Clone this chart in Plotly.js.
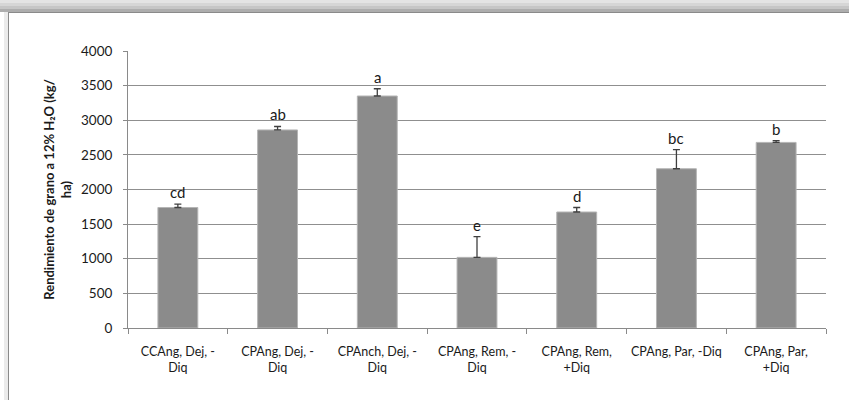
<!DOCTYPE html>
<html>
<head>
<meta charset="utf-8">
<script src="https://cdn.plot.ly/plotly-3.0.1.min.js"></script>
<style>
  html, body { margin: 0; padding: 0; width: 849px; height: 400px; overflow: hidden; background: #ffffff; }
  #chart { position: absolute; left: 0; top: 0; width: 849px; height: 400px; z-index: 1; }
  .band { position: absolute; left: 0; width: 849px; z-index: 2; pointer-events: none; }
  #leftband { position: absolute; left: 4px; top: 12px; width: 4px; height: 388px; z-index: 2; pointer-events: none;
              background-color: #ebebeb; }
  #frame { position: absolute; left: 8px; top: 12px; width: 900px; height: 500px; z-index: 3; pointer-events: none;
           border-left: 1px solid #8a8a8a; border-top: 1px solid #8a8a8a; }
</style>
</head>
<body>
<div id="chart"></div>
<div class="band" style="top:0px;height:3px;background-color:#e4e4e4"></div>
<div class="band" style="top:3px;height:3px;background-color:#d6d6d6"></div>
<div class="band" style="top:6px;height:3px;background-color:#c6c6c6"></div>
<div class="band" style="top:9px;height:3px;background-color:#adadad"></div>
<div id="leftband"></div>
<div id="frame"></div>
<script>
const categories = [
  "CCAng, Dej, -<br>Diq",
  "CPAng, Dej, -<br>Diq",
  "CPAnch, Dej, -<br>Diq",
  "CPAng, Rem, -<br>Diq",
  "CPAng, Rem,<br>+Diq",
  "CPAng, Par, -Diq<br> ",
  "CPAng, Par,<br>+Diq"
];
const yieldValues = [1740, 2860, 3350, 1020, 1675, 2300, 2680];
const errorValues = [50, 50, 105, 300, 65, 275, 25];
const letters = ["cd", "ab", "a", "e", "d", "bc", "b"];
const yTickVals = [0, 500, 1000, 1500, 2000, 2500, 3000, 3500, 4000];

const trace = {
  type: "bar",
  x: categories,
  y: yieldValues,
  marker: { color: "#8b8b8b", line: { color: "#b5b5b5", width: 1 } },
  error_y: {
    type: "data",
    symmetric: false,
    array: errorValues,
    arrayminus: errorValues.map(() => 0),
    color: "#3f3f3f",
    thickness: 1.3,
    width: 3.5
  },
  hoverinfo: "none"
};

const annotations = categories.map((c, i) => ({
  x: c,
  y: yieldValues[i] + errorValues[i],
  xref: "x", yref: "y",
  text: letters[i],
  showarrow: false,
  yanchor: "bottom",
  yshift: 1,
  font: { family: "Lato, 'Open Sans', sans-serif", size: 15, color: "#1a1a1a" }
}));

const layout = {
  width: 849,
  height: 400,
  margin: { l: 128, r: 23, t: 51, b: 72, pad: 0 },
  paper_bgcolor: "#ffffff",
  plot_bgcolor: "#ffffff",
  showlegend: false,
  bargap: 0.6,
  font: { family: "Lato, 'Open Sans', sans-serif", color: "#1a1a1a" },
  xaxis: {
    type: "category",
    showgrid: false,
    showline: true,
    linecolor: "#8a8a8a",
    linewidth: 1,
    ticks: "outside",
    tickson: "boundaries",
    ticklen: 5,
    tickcolor: "#8a8a8a",
    tickangle: 0,
    tickfont: { family: "Lato, 'Open Sans', sans-serif", size: 12.5, color: "#1a1a1a" },
    ticklabelstandoff: 12,
    zeroline: false,
    fixedrange: true
  },
  yaxis: {
    range: [0, 4000],
    tickvals: yTickVals,
    ticktext: yTickVals.map(String),
    showgrid: true,
    gridcolor: "#8f8f8f",
    gridwidth: 1,
    showline: true,
    linecolor: "#8a8a8a",
    linewidth: 1,
    ticks: "outside",
    ticklen: 4,
    tickcolor: "#8a8a8a",
    tickfont: { family: "Lato, 'Open Sans', sans-serif", size: 13.5, color: "#1a1a1a" },
    ticklabelstandoff: 8,
    zeroline: false,
    fixedrange: true,
    title: {
      text: "<b>Rendimiento de grano a 12% H₂O (kg/<br>ha)</b>",
      font: { family: "Lato, 'Open Sans', sans-serif", size: 13, color: "#1a1a1a" },
      standoff: 6
    }
  },
  annotations: annotations
};

Plotly.newPlot("chart", [trace], layout, { staticPlot: true, displayModeBar: false });
</script>
</body>
</html>
